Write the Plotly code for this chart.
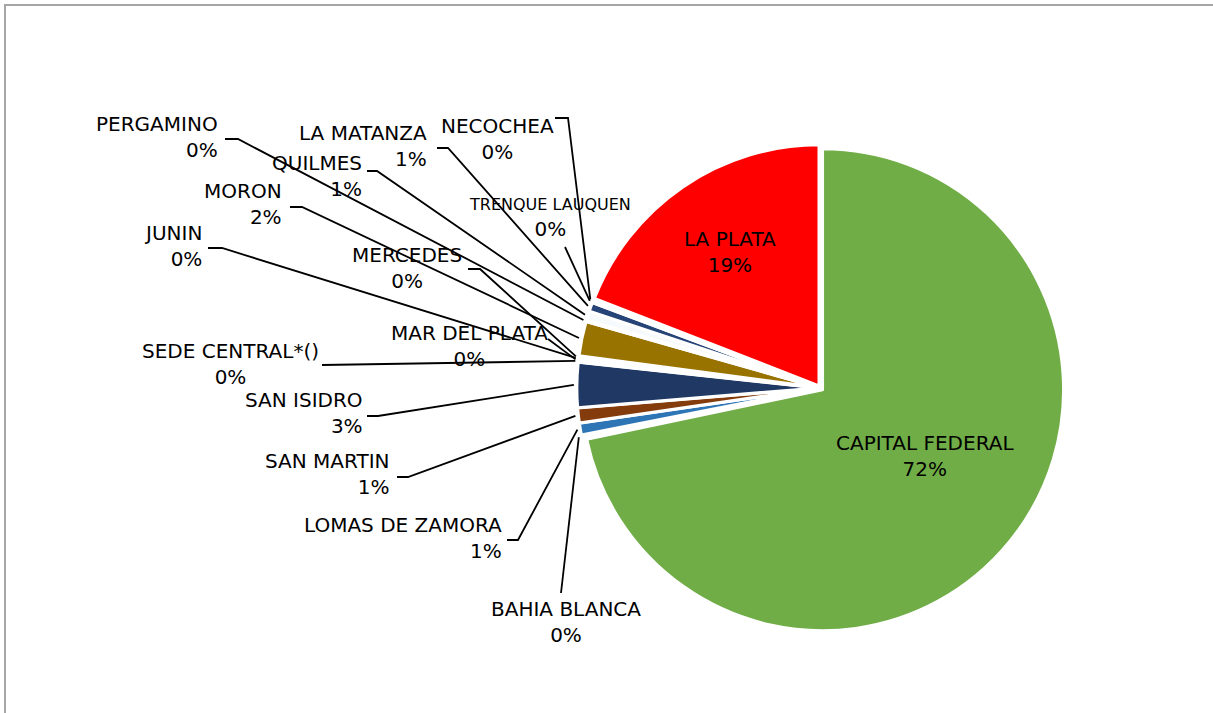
import math
import plotly.graph_objects as go

# ---------------- data ----------------
labels = ["CAPITAL FEDERAL", "BAHIA BLANCA", "LOMAS DE ZAMORA", "SAN MARTIN",
          "SAN ISIDRO", "SEDE CENTRAL*()", "MAR DEL PLATA", "JUNIN", "MERCEDES",
          "MORON", "PERGAMINO", "QUILMES", "LA MATANZA", "TRENQUE LAUQUEN",
          "NECOCHEA", "LA PLATA"]
values = [717, 2, 8, 10, 30, 1, 1, 1, 1, 23, 1, 6, 6, 1, 1, 191]

# ---------------- styles ----------------
colors = ["#70AD47", "#5B9BD5", "#2E75B6", "#843C0C", "#203864", "#F4B183",
          "#D9D9D9", "#FFE699", "#B4C7E7", "#997300", "#C5E0B4", "#F7FAFD",
          "#264478", "#9DC3E6", "#F8CBAD", "#FF0000"]

W, H = 1213, 713
CX, CY = 820.5, 388.0      # pie centre (px)
PULL = 0.011
R = 241.0                  # pie radius (px)
FONT = "DejaVu Sans"

# label placement (px): anchor x, centre y, anchor side, leader start points
label_layout = {
    "CAPITAL FEDERAL": dict(x=925, y=456, xa="center", lead=None),
    "BAHIA BLANCA":    dict(x=566, y=622, xa="center", lead=[(561, 593)]),
    "LOMAS DE ZAMORA": dict(x=504, y=538, xa="right", lead=[(507, 540), (518, 540)]),
    "SAN MARTIN":      dict(x=392, y=474, xa="right", lead=[(397, 477), (408, 477)]),
    "SAN ISIDRO":      dict(x=365, y=413, xa="right", lead=[(367, 416), (378, 416)]),
    "SEDE CENTRAL*()": dict(x=230, y=364, xa="center", lead=[(322, 365)]),
    "MAR DEL PLATA":   dict(x=469, y=346, xa="center", lead=[(548, 339)]),
    "JUNIN":           dict(x=204, y=246, xa="right", lead=[(208, 248), (222, 248)]),
    "MERCEDES":        dict(x=407, y=268, xa="center", lead=[(468, 269), (480, 269)]),
    "MORON":           dict(x=284, y=204, xa="right", lead=[(290, 207), (302, 207)]),
    "PERGAMINO":       dict(x=220, y=137, xa="right", lead=[(225, 139), (238, 139)]),
    "QUILMES":         dict(x=364, y=176, xa="right", lead=[(367, 171), (377, 171)]),
    "LA MATANZA":      dict(x=429, y=146, xa="right", lead=[(437, 148), (448, 148)]),
    "TRENQUE LAUQUEN": dict(x=550, y=218, xa="center", lead=[(565, 247)], size1=16),
    "NECOCHEA":        dict(x=497, y=139, xa="center", lead=[(555, 118), (568, 118)]),
    "LA PLATA":        dict(x=730, y=252, xa="center", lead=None),
}

total = float(sum(values))
half = R * (1 + PULL)

fig = go.Figure()

fig.add_trace(go.Pie(
    labels=labels, values=values, sort=False, direction="clockwise", rotation=0,
    pull=[PULL] * len(values),
    marker=dict(colors=colors, line=dict(color="white", width=3)),
    textinfo="none", hoverinfo="label+percent", showlegend=False,
    domain=dict(x=[(CX - half) / W, (CX + half) / W],
                y=[(H - CY - half) / H, (H - CY + half) / H]),
))

# leader lines computed from slice mid-angles
lx, ly = [], []
cum = 0.0
annotations = []
for lab, v in zip(labels, values):
    mid = (cum + v / 2.0) / total
    cum += v
    ang = 2 * math.pi * mid
    spec = label_layout[lab]
    pct = int(v * 100.0 / total + 0.5)
    first = lab
    if "size1" in spec:
        first = f"<span style='font-size:{spec['size1']}px'>{lab}</span>"
    annotations.append(dict(
        x=spec["x"], y=spec["y"], xref="x", yref="y", showarrow=False,
        text=f"{first}<br>{pct}%", xanchor=spec["xa"], yanchor="middle",
        align=spec["xa"],
        font=dict(family=FONT, size=20, color="black"),
    ))
    if spec["lead"]:
        rr = half + 3
        tip = (CX + rr * math.sin(ang), CY - rr * math.cos(ang))
        for (px, py) in spec["lead"] + [tip]:
            lx.append(px)
            ly.append(py)
        lx.append(None)
        ly.append(None)

fig.add_trace(go.Scatter(x=lx, y=ly, mode="lines", hoverinfo="skip",
                         line=dict(color="black", width=1.8), showlegend=False))

fig.update_layout(
    width=W, height=H, margin=dict(l=0, r=0, t=0, b=0),
    paper_bgcolor="white", plot_bgcolor="rgba(0,0,0,0)",
    xaxis=dict(range=[0, W], visible=False, fixedrange=True),
    yaxis=dict(range=[H, 0], visible=False, fixedrange=True),
    annotations=annotations,
    shapes=[dict(type="rect", xref="x", yref="y", x0=5, y0=5, x1=W + 10, y1=H + 10,
                 line=dict(color="#A6A6A6", width=2), layer="above")],
    font=dict(family=FONT),
)

fig.write_html("out.html", config={"displayModeBar": False},
               post_script="document.body.style.margin='0px';")
